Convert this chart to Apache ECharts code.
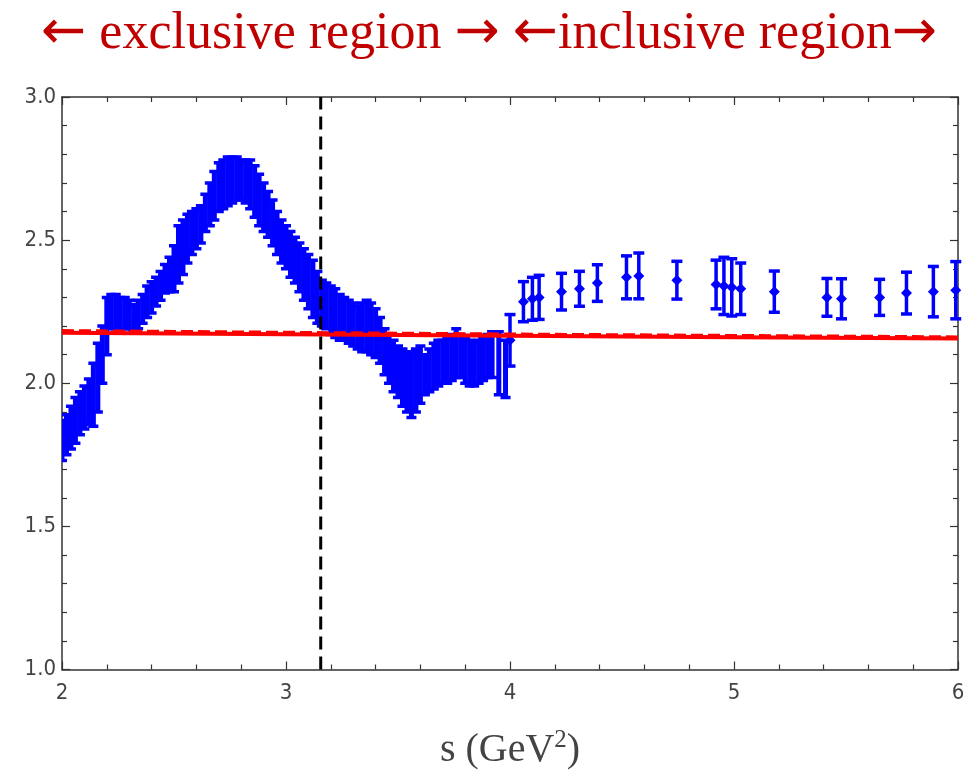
<!DOCTYPE html>
<html>
<head>
<meta charset="utf-8">
<script src="https://cdn.jsdelivr.net/npm/echarts@6/dist/echarts.min.js"></script>
<style>
html,body{margin:0;padding:0;background:#fff;}
#chart{width:978px;height:775px;}
</style>
</head>
<body>
<div id="chart"></div>
<script>
// Exclusive region (dense data): s, central value, error
const exclS = [2.00,2.02,2.04,2.06,2.08,2.10,2.12,2.14,2.16,2.18,2.20,2.22,2.24,2.26,2.28,2.30,2.32,2.34,2.36,2.38,
  2.40,2.42,2.44,2.46,2.48,2.50,2.52,2.54,2.56,2.58,2.60,2.62,2.64,2.66,2.68,2.70,2.72,2.74,2.76,2.78,
  2.80,2.82,2.84,2.86,2.88,2.90,2.92,2.94,2.96,2.98,3.00,3.02,3.04,3.06,3.08,3.10,3.12,3.14,3.16,3.18,
  3.20,3.22,3.24,3.26,3.28,3.30,3.32,3.34,3.36,3.38,3.40,3.42,3.44,3.46,3.48,3.50,3.52,3.54,3.56,3.58,
  3.60,3.62,3.64,3.66,3.68,3.70,3.72,3.74,3.76,3.78,3.80,3.82,3.84,3.86,3.88,3.90,3.92,3.95,3.98];
const exclV = [1.80,1.82,1.845,1.87,1.895,1.915,1.935,1.96,2.02,2.10,2.20,2.25,2.25,2.245,2.245,2.24,2.23,2.24,2.26,2.285,
  2.30,2.32,2.34,2.365,2.38,2.40,2.45,2.475,2.505,2.525,2.54,2.555,2.595,2.625,2.655,2.685,2.695,2.705,2.71,2.715,
  2.71,2.705,2.695,2.67,2.64,2.615,2.59,2.56,2.525,2.495,2.475,2.45,2.43,2.405,2.38,2.355,2.33,2.30,2.28,2.27,
  2.255,2.245,2.23,2.225,2.215,2.205,2.195,2.195,2.20,2.19,2.175,2.15,2.11,2.085,2.06,2.04,2.02,2.005,1.995,2.01,
  2.03,2.03,2.045,2.06,2.07,2.075,2.08,2.09,2.105,2.095,2.08,2.07,2.065,2.075,2.085,2.095,2.10,2.07,2.05];
const exclE = [0.07,0.07,0.075,0.08,0.075,0.075,0.08,0.11,0.12,0.10,0.10,0.06,0.06,0.055,0.055,0.05,0.045,0.05,0.05,0.055,
  0.055,0.05,0.05,0.05,0.06,0.08,0.10,0.095,0.085,0.075,0.07,0.065,0.065,0.075,0.085,0.085,0.085,0.085,0.08,0.075,
  0.07,0.075,0.085,0.09,0.09,0.085,0.08,0.08,0.075,0.075,0.075,0.08,0.08,0.085,0.09,0.095,0.10,0.09,0.08,0.08,
  0.085,0.085,0.08,0.075,0.075,0.075,0.075,0.085,0.09,0.09,0.085,0.08,0.08,0.085,0.09,0.09,0.10,0.105,0.115,0.11,
  0.10,0.07,0.075,0.08,0.08,0.075,0.08,0.08,0.085,0.075,0.08,0.08,0.075,0.075,0.075,0.075,0.08,0.11,0.10];

// Inclusive region (sparse data)
const inclS = [4.00,4.06,4.10,4.13,4.23,4.31,4.39,4.52,4.575,4.745,4.92,4.955,4.99,5.03,5.18,5.415,5.48,5.65,5.77,5.89,5.99];
const inclV = [2.15,2.285,2.295,2.30,2.32,2.33,2.35,2.37,2.375,2.36,2.345,2.34,2.335,2.33,2.32,2.30,2.295,2.30,2.315,2.32,2.325];
const inclE = [0.09,0.07,0.075,0.077,0.064,0.061,0.064,0.075,0.08,0.066,0.085,0.10,0.10,0.09,0.072,0.066,0.07,0.063,0.073,0.088,0.10];

// Theory curves (red)
const thS = [2, 3, 4, 5, 6];
const thSolid = [2.176, 2.171, 2.166, 2.161, 2.156];
const thDashed = [2.184, 2.178, 2.172, 2.167, 2.162];

// Vertical separator
const sepS = 3.155;

const xTicks = [2, 3, 4, 5, 6];
const yTicks = [1.0, 1.5, 2.0, 2.5, 3.0];

const exclData = exclS.map((s, i) => [s, exclV[i], exclE[i]]);
const inclData = inclS.map((s, i) => [s, inclV[i], inclE[i]]);

function errRender(lineW, capHalf, dot) {
  return function (params, api) {
    const x = api.value(0), y = api.value(1), e = api.value(2);
    const top = api.coord([x, y + e]);
    const bot = api.coord([x, y - e]);
    const mid = api.coord([x, y]);
    const st = { stroke: '#0000ff', lineWidth: lineW };
    const capSt = { stroke: '#0000ff', lineWidth: 3.5 };
    const children = [
      { type: 'line', shape: { x1: top[0], y1: top[1], x2: bot[0], y2: bot[1] }, style: st },
      { type: 'line', shape: { x1: top[0] - capHalf, y1: top[1], x2: top[0] + capHalf, y2: top[1] }, style: capSt },
      { type: 'line', shape: { x1: bot[0] - capHalf, y1: bot[1], x2: bot[0] + capHalf, y2: bot[1] }, style: capSt }
    ];
    if (dot) {
      const d = 5.5;
      children.push({ type: 'polygon', shape: { points: [[mid[0], mid[1] - d], [mid[0] + d, mid[1]], [mid[0], mid[1] + d], [mid[0] - d, mid[1]]] },
        style: { fill: '#0000ff' } });
    }
    return { type: 'group', children: children };
  };
}

const fontCond = "'DejaVu Sans Condensed', 'Liberation Sans Narrow', 'Roboto Condensed', sans-serif";

const axisCommonX = {
  type: 'value', min: 2, max: 6, interval: 1,
  axisLine: { show: true, onZero: false, lineStyle: { color: '#333', width: 1.5 } },
  axisTick: { show: true, inside: true, length: 8, lineStyle: { color: '#333', width: 1.2 } },
  minorTick: { show: true, splitNumber: 5, length: 5, lineStyle: { color: '#333', width: 1.2 } },
  splitLine: { show: false }, minorSplitLine: { show: false }
};
const axisCommonY = {
  type: 'value', min: 1, max: 3, interval: 0.5,
  axisLine: { show: true, onZero: false, lineStyle: { color: '#333', width: 1.5 } },
  axisTick: { show: true, inside: true, length: 8, lineStyle: { color: '#333', width: 1.2 } },
  minorTick: { show: true, splitNumber: 5, length: 5, lineStyle: { color: '#333', width: 1.2 } },
  splitLine: { show: false }, minorSplitLine: { show: false }
};

const chart = echarts.init(document.getElementById('chart'), null, { renderer: 'canvas' });
chart.setOption({
  animation: false,
  backgroundColor: '#fff',
  title: {
    text: '{ar|←}{t| exclusive region }{ar|→}{t| }{ar|←}{t|inclusive region}{ar|→}',
    left: 'center', top: 2,
    textStyle: {
      fontWeight: 'normal',
      rich: {
        t: { fontFamily: 'Liberation Serif', fontSize: 52, fontWeight: 'normal', color: '#c00000' },
        ar: { fontFamily: 'DejaVu Sans', fontSize: 54, fontWeight: 'normal', color: '#c00000' }
      }
    }
  },
  grid: { left: 62, right: 20, top: 97, bottom: 101, containLabel: false },
  xAxis: [
    Object.assign({}, axisCommonX, {
      position: 'bottom',
      axisLabel: { show: true, fontFamily: fontCond, fontSize: 22, color: '#444', margin: 13,
        formatter: v => xTicks.includes(v) ? String(v) : '' },
      name: '{a|s (GeV}{sup|2}{a|)}',
      nameLocation: 'middle', nameGap: 58,
      nameTextStyle: {
        rich: {
          a: { fontFamily: 'Liberation Serif', fontSize: 40, color: '#444' },
          sup: { fontFamily: 'Liberation Serif', fontSize: 25, color: '#444', verticalAlign: 'top', padding: [0, 0, 20, 0] }
        }
      }
    }),
    Object.assign({}, axisCommonX, { position: 'top', axisLabel: { show: false } })
  ],
  yAxis: [
    Object.assign({}, axisCommonY, {
      position: 'left',
      axisLabel: { show: true, fontFamily: fontCond, fontSize: 22, color: '#444', margin: 6,
        formatter: v => yTicks.some(t => Math.abs(t - v) < 1e-9) ? v.toFixed(1) : '' }
    }),
    Object.assign({}, axisCommonY, { position: 'right', axisLabel: { show: false } })
  ],
  series: [
    {
      type: 'custom', name: 'exclusive', data: exclData, xAxisIndex: 0, yAxisIndex: 0,
      renderItem: errRender(5, 5, false), clip: true, z: 2
    },
    {
      type: 'custom', name: 'inclusive', data: inclData, xAxisIndex: 0, yAxisIndex: 0,
      renderItem: errRender(3.5, 5.5, true), clip: false, z: 2
    },
    {
      type: 'line', name: 'theory solid', data: thS.map((s, i) => [s, thSolid[i]]),
      showSymbol: false, lineStyle: { color: '#ff0000', width: 4 }, z: 5
    },
    {
      type: 'line', name: 'theory dashed', data: thS.map((s, i) => [s, thDashed[i]]),
      showSymbol: false, lineStyle: { color: '#ff0000', width: 3, type: [12, 5] }, z: 5
    },
    {
      type: 'line', name: 'separator', data: [[sepS, 1], [sepS, 3]],
      showSymbol: false, lineStyle: { color: '#000', width: 3, type: [13, 7] }, z: 6
    }
  ]
});
</script>
</body>
</html>
